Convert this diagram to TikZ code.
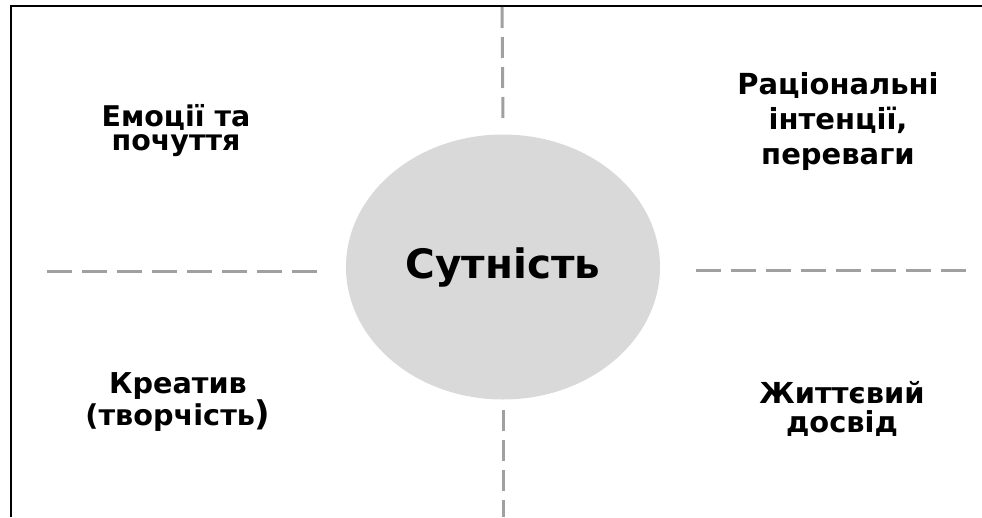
\documentclass[tikz,border=0pt]{standalone}
\usepackage{fontspec}
\setmainfont{DejaVu Sans}
\usepackage{tikz}
\usetikzlibrary{positioning, shapes.geometric}

\definecolor{coregray}{HTML}{D9D9D9}
\definecolor{dashgray}{HTML}{A0A0A0}

\begin{document}
\begin{tikzpicture}[
        x=1pt, y=-1pt,
        frame/.style={
            line width=2.5pt,
            draw=black
        },
        core/.style={
            ellipse,
            minimum width=314pt,
            minimum height=265pt,
            inner sep=0pt,
            fill=coregray,
            font=\bfseries\fontsize{40.5}{44}\selectfont
        },
        label/.style={
            align=center,
            inner sep=0pt,
            font=\bfseries\fontsize{28.5}{24}\selectfont
        },
        hdivider/.style={
            line width=3pt,
            draw=dashgray,
            dash pattern=on 25pt off 10pt
        },
        vdivider/.style={
            line width=3pt,
            draw=dashgray,
            dash pattern=on 21pt off 9pt
        }
    ]
        \useasboundingbox (0,0) rectangle (982,517);

        \draw [frame] (11,517) |- (982,6);

        \node (core) [core] at (503,267) {Сутність};

        \node (emotions) [label] at (176,131) {Емоції та\\почуття};
        \node (rational) [label, font=\bfseries\fontsize{29}{35}\selectfont] at (838,121) {Раціональні\\інтенції,\\переваги};
        \node (creative) [label, font=\bfseries\fontsize{28.7}{30}\selectfont] at (178,402) {Креатив\\(творчість{\fontsize{34}{30}\selectfont)}};
        \node (experience) [label, font=\bfseries\fontsize{28.9}{29}\selectfont] at (842,409) {Життєвий\\досвід};

        \coordinate (topend) at (502,7);
        \coordinate (bottomend) at (503,517);
        \coordinate (leftend) at (47,271);
        \coordinate (rightend) at (966,270);

        \draw [vdivider] (topend) -- (core.north |- 0,121);
        \draw [vdivider] (core.south |- 0,410) -- (bottomend);
        \draw [hdivider] (leftend) -- (317,271);
        \draw [hdivider] (696,270) -- (rightend);

    \end{tikzpicture}
\end{document}
